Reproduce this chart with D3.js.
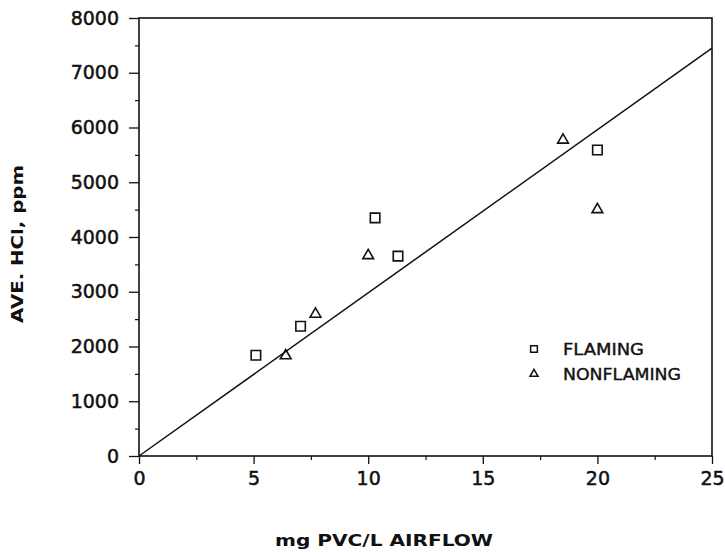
<!DOCTYPE html>
<html>
<head>
<meta charset="utf-8">
<script src="https://cdn.jsdelivr.net/npm/d3@7"></script>
<style>
  html, body { margin: 0; padding: 0; background: #fff; }
  svg { display: block; }
</style>
</head>
<body>
<svg id="chart" width="725" height="552"></svg>
<script>
// ---- data ----
const flamingX = [5.1, 7.05, 10.3, 11.3, 20.0];
const flamingY = [1840, 2370, 4350, 3650, 5590];
const nonflamingX = [6.4, 7.7, 10.0, 18.5, 20.0];
const nonflamingY = [1850, 2610, 3680, 5790, 4520];
const fitX = [0, 25];
const fitY = [0, 7450];
const xTicks = [0, 5, 10, 15, 20, 25];
const yTicks = [0, 1000, 2000, 3000, 4000, 5000, 6000, 7000, 8000];
const xMinorTicks = [2.5, 7.5, 12.5, 17.5, 22.5];
const yMinorTicks = [500, 1500, 2500, 3500, 4500, 5500, 6500, 7500];
const legendLabels = ["FLAMING", "NONFLAMING"];
const xTitle = "mg PVC/L AIRFLOW";
const yTitle = "AVE. HCl, ppm";

// ---- layout ----
const svg = d3.select("#chart");
const pLeft = 139, pRight = 712, pTop = 18, pBottom = 456;
const x = d3.scaleLinear().domain([0, 25]).range([pLeft, pRight]);
const y = d3.scaleLinear().domain([0, 8000]).range([pBottom, pTop]);
const ink = "#111";

// frame
svg.append("rect")
  .attr("x", pLeft).attr("y", pTop)
  .attr("width", pRight - pLeft).attr("height", pBottom - pTop)
  .attr("fill", "none").attr("stroke", ink).attr("stroke-width", 1.6);

// x axis
const xAxis = d3.axisBottom(x).tickValues(xTicks).tickSize(8).tickPadding(8)
  .tickFormat(d3.format("d"));
const gx = svg.append("g").attr("transform", `translate(0,${pBottom})`).call(xAxis);
gx.select(".domain").remove();
gx.selectAll("line").attr("stroke", ink).attr("stroke-width", 1.3);
gx.selectAll("text").attr("fill", ink).attr("stroke", ink).attr("stroke-width", 0.5)
  .style("font-family", "'DejaVu Sans', sans-serif").style("font-size", "19px");
const gxm = svg.append("g").attr("transform", `translate(0,${pBottom})`)
  .call(d3.axisBottom(x).tickValues(xMinorTicks).tickSize(4).tickFormat(""));
gxm.select(".domain").remove();
gxm.selectAll("line").attr("stroke", ink).attr("stroke-width", 1.2);

// y axis
const yAxis = d3.axisLeft(y).tickValues(yTicks).tickSize(10).tickPadding(10)
  .tickFormat(d3.format("d"));
const gy = svg.append("g").attr("transform", `translate(${pLeft},0)`).call(yAxis);
gy.select(".domain").remove();
gy.selectAll("line").attr("stroke", ink).attr("stroke-width", 1.3);
gy.selectAll("text").attr("fill", ink).attr("stroke", ink).attr("stroke-width", 0.5)
  .style("font-family", "'DejaVu Sans', sans-serif").style("font-size", "19px");
const gym = svg.append("g").attr("transform", `translate(${pLeft},0)`)
  .call(d3.axisLeft(y).tickValues(yMinorTicks).tickSize(4).tickFormat(""));
gym.select(".domain").remove();
gym.selectAll("line").attr("stroke", ink).attr("stroke-width", 1.2);

// fit line
const line = d3.line().x(d => x(d[0])).y(d => y(d[1]));
svg.append("path")
  .datum(d3.zip(fitX, fitY))
  .attr("d", line)
  .attr("fill", "none").attr("stroke", ink).attr("stroke-width", 1.5);

// markers
const sq = d3.symbol().type(d3.symbolSquare);
const tri = d3.symbol().type(d3.symbolTriangle);
svg.append("g").selectAll("path")
  .data(d3.zip(flamingX, flamingY))
  .join("path")
  .attr("transform", d => `translate(${x(d[0])},${y(d[1])})`)
  .attr("d", sq.size(90)())
  .attr("fill", "none").attr("stroke", ink).attr("stroke-width", 1.6);
svg.append("g").selectAll("path")
  .data(d3.zip(nonflamingX, nonflamingY))
  .join("path")
  .attr("transform", d => `translate(${x(d[0])},${y(d[1]) + 1})`)
  .attr("d", tri.size(50)())
  .attr("fill", "none").attr("stroke", ink).attr("stroke-width", 1.6);

// legend
const lg = svg.append("g");
lg.append("path").attr("transform", "translate(534,349)")
  .attr("d", sq.size(45)()).attr("fill", "none").attr("stroke", ink).attr("stroke-width", 1.5);
lg.append("path").attr("transform", "translate(534,374)")
  .attr("d", tri.size(28)()).attr("fill", "none").attr("stroke", ink).attr("stroke-width", 1.5);
lg.selectAll("text").data(legendLabels).join("text")
  .attr("x", 563).attr("y", (d, i) => 355 + i * 24.5)
  .attr("fill", ink).attr("stroke", ink).attr("stroke-width", 0.4)
  .style("font-family", "'DejaVu Sans', sans-serif").style("font-size", "16px")
  .attr("textLength", (d, i) => i === 0 ? 81 : 118)
  .attr("lengthAdjust", "spacingAndGlyphs")
  .text(d => d);

// axis titles
svg.append("text")
  .attr("x", 275).attr("y", 546)
  .attr("textLength", 218).attr("lengthAdjust", "spacingAndGlyphs")
  .attr("fill", ink)
  .style("font-family", "'DejaVu Sans', sans-serif").style("font-size", "16px")
  .style("font-weight", "bold")
  .text(xTitle);
svg.append("text")
  .attr("transform", "translate(23,323) rotate(-90)")
  .attr("x", 0).attr("y", 0)
  .attr("textLength", 158).attr("lengthAdjust", "spacingAndGlyphs")
  .attr("fill", ink)
  .style("font-family", "'DejaVu Sans', sans-serif").style("font-size", "16px")
  .style("font-weight", "bold")
  .text(yTitle);
</script>
</body>
</html>
